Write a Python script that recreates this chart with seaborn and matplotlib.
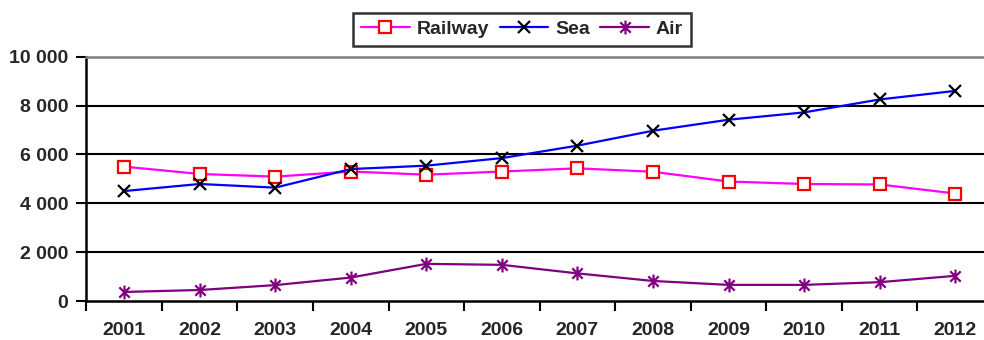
import numpy as np
import pandas as pd
import matplotlib
matplotlib.use("Agg")
import matplotlib.pyplot as plt
from matplotlib.path import Path
from matplotlib.ticker import FuncFormatter, FixedLocator
import seaborn as sns

years = ["2001", "2002", "2003", "2004", "2005", "2006",
         "2007", "2008", "2009", "2010", "2011", "2012"]
railway = [5500, 5200, 5090, 5300, 5170, 5300, 5430, 5290, 4890, 4790, 4770, 4400]
sea = [4500, 4790, 4640, 5400, 5540, 5850, 6360, 6970, 7420, 7720, 8250, 8600]
air = [370, 450, 650, 960, 1520, 1480, 1130, 820, 660, 660, 770, 1030]
y_ticks = [0, 2000, 4000, 6000, 8000, 10000]

sns.set_theme(style="white")
plt.rcParams["font.family"] = ["Liberation Sans", "DejaVu Sans"]
plt.rcParams["font.weight"] = "bold"

fig = plt.figure(figsize=(9.84, 3.4), dpi=100)
ax = fig.add_axes([86.3 / 984, 39 / 340, 906.7 / 984, 244.3 / 340])

pos = np.arange(len(years))

# asterisk marker: vertical bar plus an X
asterisk = Path(
    [(0, -1), (0, 1), (-0.75, -0.75), (0.75, 0.75), (-0.75, 0.75), (0.75, -0.75)],
    [Path.MOVETO, Path.LINETO] * 3,
)

# gridlines drawn first so the series sit on top
for v in y_ticks[1:-1]:
    ax.axhline(v, color="black", lw=1.5, zorder=1)

sns.lineplot(x=pos, y=railway, ax=ax, color="#FF00FF", lw=1.6, marker="s",
             markersize=9, markerfacecolor="white", markeredgecolor="#FF0000",
             markeredgewidth=1.6, label="Railway", zorder=3)
sns.lineplot(x=pos, y=sea, ax=ax, color="#0000FF", lw=1.6, marker="x",
             markersize=9, markeredgecolor="black", markeredgewidth=1.6,
             label="Sea", zorder=3)
sns.lineplot(x=pos, y=air, ax=ax, color="#800080", lw=1.6, marker=asterisk,
             markersize=10, markeredgecolor="#800080", markeredgewidth=1.6,
             label="Air", zorder=3)

ax.set_xlim(-0.5, len(years) - 0.5)
ax.set_ylim(0, 10000)

ax.xaxis.set_major_locator(FixedLocator(pos))
ax.set_xticklabels(years)
ax.xaxis.set_minor_locator(FixedLocator(np.arange(len(years) + 1) - 0.5))
ax.tick_params(axis="x", which="major", length=0, pad=15, labelsize=14)
ax.tick_params(axis="x", which="minor", length=7, width=1.5, color="black",
               direction="out", bottom=True)
ax.set_yticks(y_ticks)
ax.yaxis.set_major_formatter(FuncFormatter(lambda v, p: f"{int(v):,}".replace(",", " ")))
ax.tick_params(axis="y", length=7, width=1.5, color="black", direction="out",
               left=True, pad=6, labelsize=14)
for lab in ax.get_xticklabels() + ax.get_yticklabels():
    lab.set_fontweight("bold")

for side in ["left", "bottom"]:
    ax.spines[side].set_color("black")
    ax.spines[side].set_linewidth(1.8)
ax.spines["top"].set_color("#808080")
ax.spines["top"].set_linewidth(1.8)
ax.spines["right"].set_visible(False)

leg = ax.legend(loc="center", bbox_to_anchor=(0.4805, 1.113), ncol=3,
                fontsize=14, frameon=True, fancybox=False, edgecolor="black",
                handlelength=2.5, handletextpad=0.35, columnspacing=0.55,
                borderpad=0.4, borderaxespad=0)
leg.get_frame().set_linewidth(1.8)
for t in leg.get_texts():
    t.set_fontweight("bold")

ax.set_xlabel("")
ax.set_ylabel("")
fig.savefig("out.png", dpi=100)
